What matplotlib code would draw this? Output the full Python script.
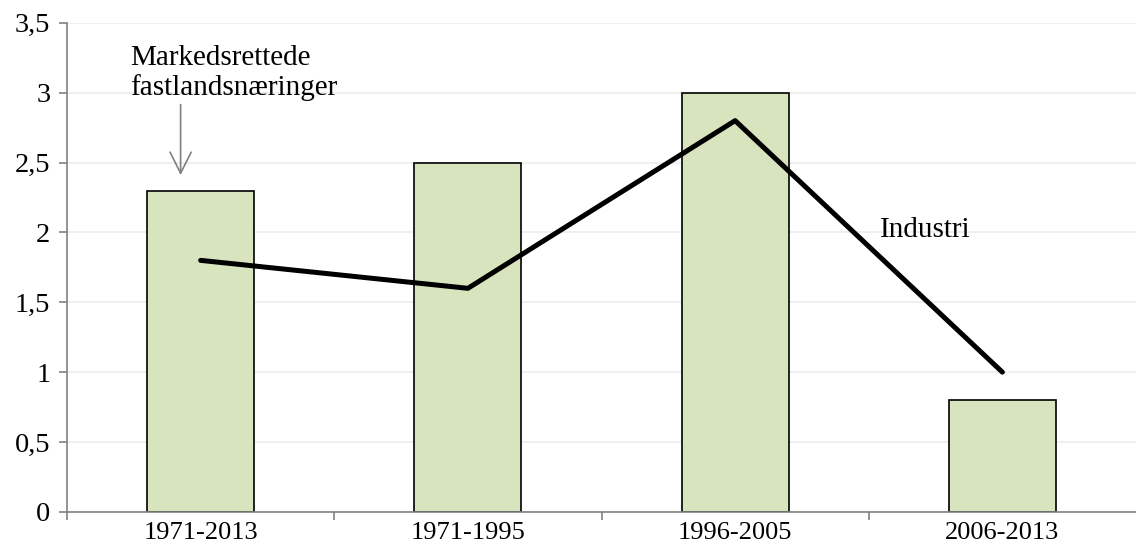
import numpy as np
import matplotlib.pyplot as plt

periods = ["1971-2013", "1971-1995", "1996-2005", "2006-2013"]
fastland = [2.3, 2.5, 3.0, 0.8]
industri = [1.8, 1.6, 2.8, 1.0]
yticks = [0, 0.5, 1, 1.5, 2, 2.5, 3, 3.5]

plt.rcParams["font.family"] = ["Liberation Serif", "DejaVu Serif"]

fig = plt.figure(figsize=(11.36, 5.57), dpi=100)
ax = fig.add_axes([0.059, 0.081, 0.941, 0.878])

x = np.arange(len(periods))
ax.bar(x, fastland, width=0.4, color="#d7e4bd", edgecolor="black", linewidth=1.2, zorder=2)
ax.plot(x, industri, color="black", lw=3.6, solid_capstyle="round", zorder=3)

ax.set_xlim(-0.5, 3.5)
ax.set_ylim(0, 3.5)
ax.set_yticks(yticks)
ax.set_yticklabels([f"{v:g}".replace(".", ",") for v in yticks], fontsize=20.5)
ax.yaxis.grid(True, color="#ececec", lw=1.2, zorder=0)
ax.set_axisbelow(True)

ax.set_xticks(x)
ax.set_xticklabels(periods, fontsize=19)
ax.set_xticks(np.arange(-0.5, 3.0, 1), minor=True)
ax.tick_params(axis="x", which="major", length=0, pad=7)
ax.tick_params(axis="x", which="minor", length=6, color="#808080", width=1.2)
ax.tick_params(axis="y", length=6, color="#808080", width=1.2, pad=6)

for s in ["top", "right"]:
    ax.spines[s].set_visible(False)
for s in ["left", "bottom"]:
    ax.spines[s].set_color("#808080")
    ax.spines[s].set_linewidth(1.2)

ax.annotate("", xy=(-0.075, 2.39), xytext=(-0.075, 2.935),
            arrowprops=dict(arrowstyle="->", color="#808080", lw=1.2,
                            mutation_scale=38))
ax.text(-0.265, 3.34, "Markedsrettede\nfastlandsnæringer", fontsize=21,
        va="top", ha="left", linespacing=1.12)
ax.text(2.54, 2.02, "Industri", fontsize=21, va="center", ha="left")

fig.savefig("out.png", dpi=100)
